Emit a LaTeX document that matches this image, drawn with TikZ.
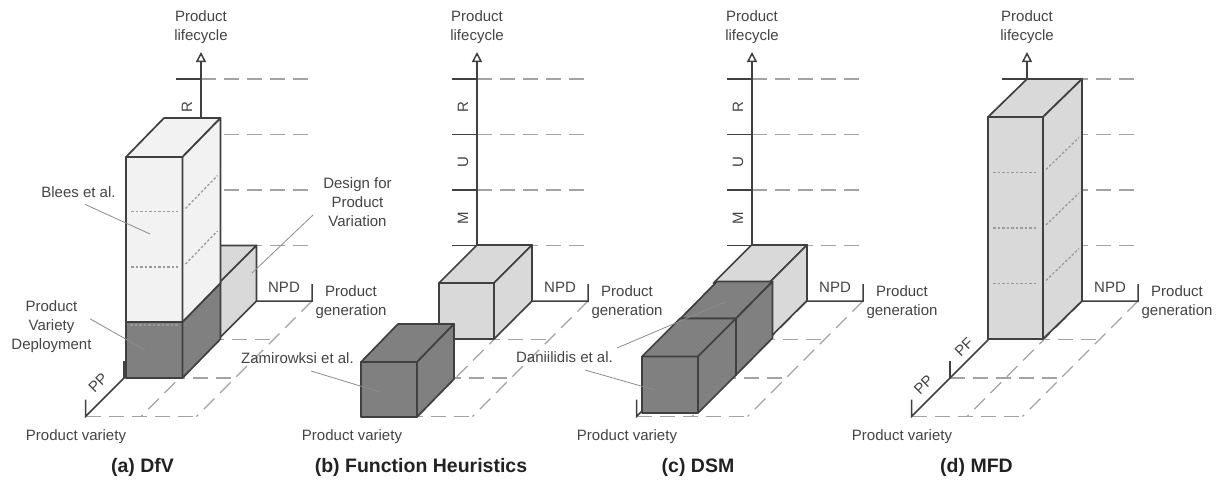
\documentclass[tikz,border=0pt]{standalone}
\usepackage{fontspec}
\setmainfont{Liberation Sans}
\usetikzlibrary{arrows.meta}
\definecolor{edge}{HTML}{404040}
\definecolor{dashc}{HTML}{A3A3A3}
\definecolor{dotc}{HTML}{9A9A9A}
\definecolor{lightf}{HTML}{F2F2F2}
\definecolor{midf}{HTML}{D9D9D9}
\definecolor{darkf}{HTML}{808080}
\definecolor{txt}{HTML}{444444}
\definecolor{ttlc}{HTML}{222222}
\definecolor{leadc}{HTML}{8C8C8C}
\newcommand\ug{55.5}
\newcommand\ud{38.5}
\newcommand\uz{55.5}
% front-bottom-left x, y, width, height, depth dx, depth dy, fill
\newcommand\cuboid[7]{%
  \filldraw[boxline, fill=#7] (#1,#2) rectangle ++(#3,-#4);
  \filldraw[boxline, fill=#7] (#1,#2) ++(0,-#4) -- ++(#3,0) -- ++(#5,-#6) -- ++(-#3,0) -- cycle;
  \filldraw[boxline, fill=#7] (#1,#2) ++(#3,0) -- ++(#5,-#6) -- ++(0,-#4) -- ++(-#5,#6) -- cycle;
}
\newcommand\panelbase[1]{%
  \foreach \k in {1,2,3,4} {\draw[dashline] (0,-\k*\uz) -- (2*\ug,-\k*\uz);}
  \foreach \k in {1,2,3} {\draw[dashline] (-\k*\ud,\k*\ud) -- (2*\ug-\k*\ud,\k*\ud);}
  \foreach \k in {1,2} {\draw[dashline] (\k*\ug,0) -- (\k*\ug-3*\ud,3*\ud);}
  \coordinate (#1O) at (0,0);
  \coordinate (#1G) at (2*\ug,0);
  \coordinate (#1V) at (-3*\ud,3*\ud);
  \coordinate (#1V2) at (-2*\ud,2*\ud);
  \coordinate (#1L) at (0,-249);
  \draw[axisline] ([yshift=17pt]#1G) -- (#1G) -- (#1O) -- (#1V) -- ([yshift=17pt]#1V);
  \draw[axisline] (#1V2) -- ([yshift=17pt]#1V2);
  \draw[axisline,-{Triangle[open,length=10pt,width=10pt,fill=white]}] (#1O) -- (#1L);
  \foreach \k in {1,2,3,4} {\draw[tickline] (-25,-\k*\uz) -- (0,-\k*\uz);}
  \node[lbl, align=center] (#1life) at (0,-274) {Product\\lifecycle};
  \node[lbl, anchor=base] (#1npd) at (83,-8.7) {NPD};
  \node[lbl, align=center] (#1gen) at (150,1.3) {Product\\generation};
  \node[lbl, anchor=base] (#1var) at (-125,139) {Product variety};
}
\tikzset{
  boxline/.style={draw=edge, line width=1.7pt, line join=round},
  dashline/.style={draw=dashc, line width=1.3pt, dash pattern=on 15pt off 8pt},
  dotline/.style={draw=dotc, line width=1.3pt, dash pattern=on 2.5pt off 2pt},
  axisline/.style={draw=edge, line width=1.5pt},
  tickline/.style={draw=edge, line width=1.8pt},
  lbl/.style={text=txt, font=\fontsize{15}{19}\selectfont, inner sep=0pt},
  ttl/.style={text=ttlc, font=\fontsize{19.5}{23}\selectfont\bfseries, inner sep=0pt, anchor=base},
  leader/.style={draw=leadc, line width=0.8pt},
  axlet/.style={lbl, rotate=90},
  diaglet/.style={lbl, rotate=45},
}
\begin{document}
\begin{tikzpicture}[x=1pt, y=-1pt]
\useasboundingbox (0,0) rectangle (1220,482);
\fill[white] (0,0) rectangle (1220,482);
% ---------------- (a) DfV
\begin{scope}[shift={(201,301)}]
  \panelbase{a}
  \node[axlet] (aR) at (-14,-3.5*\uz) {R};
  \node[diaglet] (aPP) at (-103,82) {PP};
  \cuboid{-38.5}{38.5}{55.5}{55.5}{38.5}{38.5}{midf}
  \cuboid{-75}{77}{56.5}{56}{38}{39}{darkf}
  \cuboid{-75}{21}{56.5}{165}{38}{39}{lightf}
  \draw[dotline] (-71,24) -- (-22,24);
  \draw[dotline] (-70,-34) -- (-23,-34);
  \draw[dotline] (-15.5,-37) -- (16.5,-70);
  \draw[dotline] (-70,-89.5) -- (-23,-89.5);
  \draw[dotline] (-15.5,-92.5) -- (16.5,-125.5);
\end{scope}
\node[lbl, anchor=base] (blees) at (78.5,197) {Blees et al.};
\coordinate (bleesE) at (150,234);
\draw[leader] (blees.south) ++(6.5,7) -- (bleesE);
\node[lbl, align=center] (pvd) at (51.5,326.8) {Product\\Variety\\Deployment};
\coordinate (pvdE) at (145,350);
\draw[leader] (pvd.center) ++(38.5,-8) -- (pvdE);
\node[lbl, align=center] (dpv) at (357.5,202.5) {Design for\\Product\\Variation};
\coordinate (dpvE) at (252,273);
\draw[leader] (dpv.center) ++(-44.5,12.5) -- (dpvE);
\node[ttl] (ta) at (142.5,472) {(a) DfV};
% ---------------- (b) Function Heuristics
\begin{scope}[shift={(477,301)}]
  \panelbase{b}
  \node[axlet] (bM) at (-14,-1.5*\uz) {M};
  \node[axlet] (bU) at (-14,-2.5*\uz) {U};
  \node[axlet] (bR) at (-14,-3.5*\uz) {R};
  \cuboid{-38}{38}{55}{56}{38}{38}{midf}
  \cuboid{-116}{116}{56}{55}{37}{38}{darkf}
\end{scope}
\node[lbl, anchor=base] (zam) at (297.5,363) {Zamirowksi et al.};
\coordinate (zamE) at (380,392);
\draw[leader] (zam.base) ++(13.5,8) -- (zamE);
\node[ttl] (tb) at (421,472) {(b) Function Heuristics};
% ---------------- (c) DSM
\begin{scope}[shift={(752,301)}]
  \panelbase{c}
  \node[axlet] (cM) at (-14,-1.5*\uz) {M};
  \node[axlet] (cU) at (-14,-2.5*\uz) {U};
  \node[axlet] (cR) at (-14,-3.5*\uz) {R};
  \cuboid{-38.5}{37.5}{55.5}{55.5}{38}{38}{midf}
  \cuboid{-71.5}{74}{55.5}{56.5}{36.5}{37}{darkf}
  \cuboid{-110}{112}{56}{56.5}{38}{38}{darkf}
\end{scope}
\node[lbl, anchor=base] (dan) at (564.5,362) {Daniilidis et al.};
\coordinate (danE1) at (655,390);
\coordinate (danE2) at (725,302);
\draw[leader] (dan.base) ++(20.5,8) -- (danE1);
\draw[leader] (dan.base) ++(52.5,-14) -- (danE2);
\node[ttl] (tc) at (698,472) {(c) DSM};
% ---------------- (d) MFD
\begin{scope}[shift={(1027,301)}]
  \panelbase{d}
  \node[diaglet] (dPF) at (-63,46) {PF};
  \node[diaglet] (dPP) at (-103.5,84) {PP};
  \cuboid{-39}{38}{55}{222}{39}{38}{midf}
  \foreach \yy in {-17.5,-73,-128.5} {
    \draw[dotline] (-34,\yy) -- (11,\yy);
    \draw[dotline] (19,\yy-3) -- (52,\yy-35);
  }
\end{scope}
\node[ttl] (td) at (976.5,472) {(d) MFD};
\end{tikzpicture}
\end{document}
